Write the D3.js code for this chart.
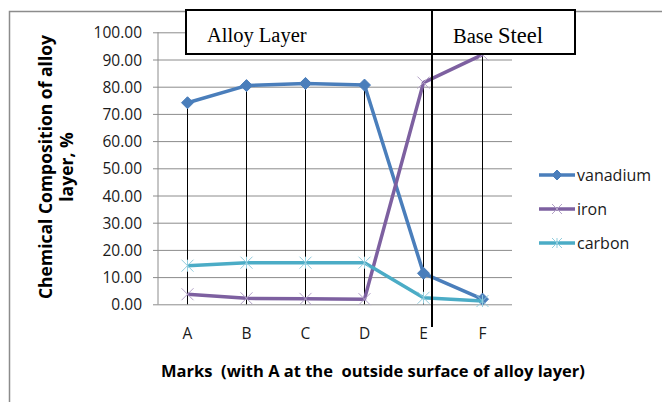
<!DOCTYPE html>
<html>
<head>
<meta charset="utf-8">
<script src="https://d3js.org/d3.v7.min.js"></script>
<style>
  body { margin: 0; background: #fff; }
</style>
</head>
<body>
<svg id="chart" width="662" height="402"></svg>
<script>
// data
var marks = ["A", "B", "C", "D", "E", "F"];
var vanadium = [74.1, 80.4, 81.2, 80.6, 11.4, 1.9];
var iron = [3.7, 2.2, 2.0, 1.9, 81.5, 91.8];
var carbon = [14.2, 15.3, 15.3, 15.3, 2.4, 1.2];
var yTicks = [0, 10, 20, 30, 40, 50, 60, 70, 80, 90, 100];
var seriesNames = ["vanadium", "iron", "carbon"];

var series = [
  { name: "vanadium", values: vanadium, color: "#4a7ebb", marker: "diamond" },
  { name: "iron", values: iron, color: "#7d60a0", markColor: "#b3a2c7", marker: "x" },
  { name: "carbon", values: carbon, color: "#4bacc6", markColor: "#93cddd", marker: "star" }
];

var sans = "'Open Sans', sans-serif";
var serif = "'Liberation Serif', 'Times New Roman', serif";

var svg = d3.select("#chart");

// chart area border (only left and top show)
svg.append("path")
  .attr("d", "M9.5,402 V11.5 H662")
  .attr("fill", "none")
  .attr("stroke", "#8c8c8c")
  .attr("stroke-width", 1.5);

var margin = { left: 158, top: 32.3, right: 150, bottom: 97.7 };
var width = 662 - margin.left - margin.right;
var height = 402 - margin.top - margin.bottom;

var x = d3.scalePoint().domain(marks).range([0, width]).padding(0.5);
var y = d3.scaleLinear().domain([0, 100]).range([height, 0]);

var g = svg.append("g").attr("transform", "translate(" + margin.left + "," + margin.top + ")");

// gridlines + y labels
var yAxis = g.append("g")
  .call(d3.axisLeft(y).tickValues(yTicks).tickSize(-width).tickSizeOuter(0)
    .tickFormat(d3.format(".2f")));
yAxis.select(".domain").remove();
yAxis.selectAll(".tick line").attr("x1", -5).attr("x2", width).attr("stroke", "#8c8c8c");
yAxis.selectAll(".tick text")
  .attr("x", -16)
  .attr("dy", "0.36em")
  .style("font-family", sans)
  .style("font-size", "15.5px")
  .attr("fill", "#1a1a1a");

// y axis line
g.append("line")
  .attr("x1", 0).attr("x2", 0).attr("y1", 0).attr("y2", height)
  .attr("stroke", "#8c8c8c");

// x labels
g.selectAll(".xlab").data(marks).enter().append("text")
  .attr("x", function(d) { return x(d); })
  .attr("y", height + 35)
  .attr("text-anchor", "middle")
  .style("font-family", sans)
  .style("font-size", "15.5px")
  .attr("fill", "#1a1a1a")
  .text(function(d) { return d; });

// drop lines from highest point to axis
g.selectAll(".drop").data(marks).enter().append("line")
  .attr("x1", function(d) { return x(d); })
  .attr("x2", function(d) { return x(d); })
  .attr("y1", function(d, i) { return y(d3.max(series, function(s) { return s.values[i]; })); })
  .attr("y2", height)
  .attr("stroke", "#000")
  .attr("stroke-width", 1);

var line = d3.line()
  .x(function(d, i) { return x(marks[i]); })
  .y(function(d) { return y(d); });

function drawMarker(sel, s, size) {
  if (s.marker === "diamond") {
    sel.append("path")
      .attr("d", "M0,-" + size + " L" + size + ",0 L0," + size + " L-" + size + ",0 Z")
      .attr("fill", s.color).attr("stroke", s.color);
  } else {
    var r = size;
    var d = "M-" + r + ",-" + r + " L" + r + "," + r + " M-" + r + "," + r + " L" + r + ",-" + r;
    if (s.marker === "star") d += " M0,-" + r + " L0," + r;
    sel.append("path").attr("d", d)
      .attr("fill", "none").attr("stroke", s.markColor).attr("stroke-width", 1);
  }
}

series.forEach(function(s) {
  g.append("path")
    .datum(s.values)
    .attr("d", line)
    .attr("fill", "none")
    .attr("stroke", s.color)
    .attr("stroke-width", 3.5)
    .attr("stroke-linejoin", "round");
  s.values.forEach(function(v, i) {
    var m = g.append("g").attr("transform", "translate(" + x(marks[i]) + "," + y(v) + ")");
    drawMarker(m, s, 6);
  });
});

// legend
var legend = svg.append("g").attr("transform", "translate(539,175)");
series.forEach(function(s, i) {
  var lg = legend.append("g").attr("transform", "translate(0," + (i * 34) + ")");
  lg.append("line").attr("x1", 0).attr("x2", 36).attr("y1", 0).attr("y2", 0)
    .attr("stroke", s.color).attr("stroke-width", 3.5);
  var m = lg.append("g").attr("transform", "translate(18,0)");
  drawMarker(m, s, 5);
  lg.append("text").attr("x", 38).attr("y", 5.5)
    .style("font-family", sans).style("font-size", "16px")
    .attr("fill", "#1a1a1a")
    .text(seriesNames[i]);
});

// annotation boxes
svg.append("rect").attr("x", 186).attr("y", 10).attr("width", 246).attr("height", 44)
  .attr("fill", "#fff").attr("stroke", "#000").attr("stroke-width", 2);
svg.append("text").attr("x", 207).attr("y", 41.5)
  .style("font-family", serif).style("font-size", "20.5px").attr("fill", "#000")
  .text("Alloy Layer");
svg.append("rect").attr("x", 432).attr("y", 10).attr("width", 143).attr("height", 44)
  .attr("fill", "#fff").attr("stroke", "#000").attr("stroke-width", 2);
var bs = svg.append("text").attr("x", 453).attr("y", 43)
  .style("font-family", serif).attr("fill", "#000");
bs.append("tspan").style("font-size", "20.5px").text("Base ");
bs.append("tspan").style("font-size", "22.5px").text("Steel");
svg.append("line").attr("x1", 432).attr("x2", 432).attr("y1", 54).attr("y2", 327)
  .attr("stroke", "#000").attr("stroke-width", 2);

// axis titles
svg.append("text")
  .attr("transform", "translate(52,167) rotate(-90)")
  .attr("text-anchor", "middle")
  .style("font-family", sans).style("font-size", "17.5px").style("font-weight", "bold")
  .attr("fill", "#000")
  .text("Chemical Composition of alloy");
svg.append("text")
  .attr("transform", "translate(73,167) rotate(-90)")
  .attr("text-anchor", "middle")
  .style("font-family", sans).style("font-size", "17.5px").style("font-weight", "bold")
  .attr("fill", "#000")
  .text("layer, %");
svg.append("text")
  .attr("x", 373).attr("y", 377)
  .attr("text-anchor", "middle")
  .style("font-family", sans).style("font-size", "16.5px").style("font-weight", "bold")
  .style("white-space", "pre")
  .attr("fill", "#000")
  .text("Marks  (with A at the  outside surface of alloy layer)");
</script>
</body>
</html>
